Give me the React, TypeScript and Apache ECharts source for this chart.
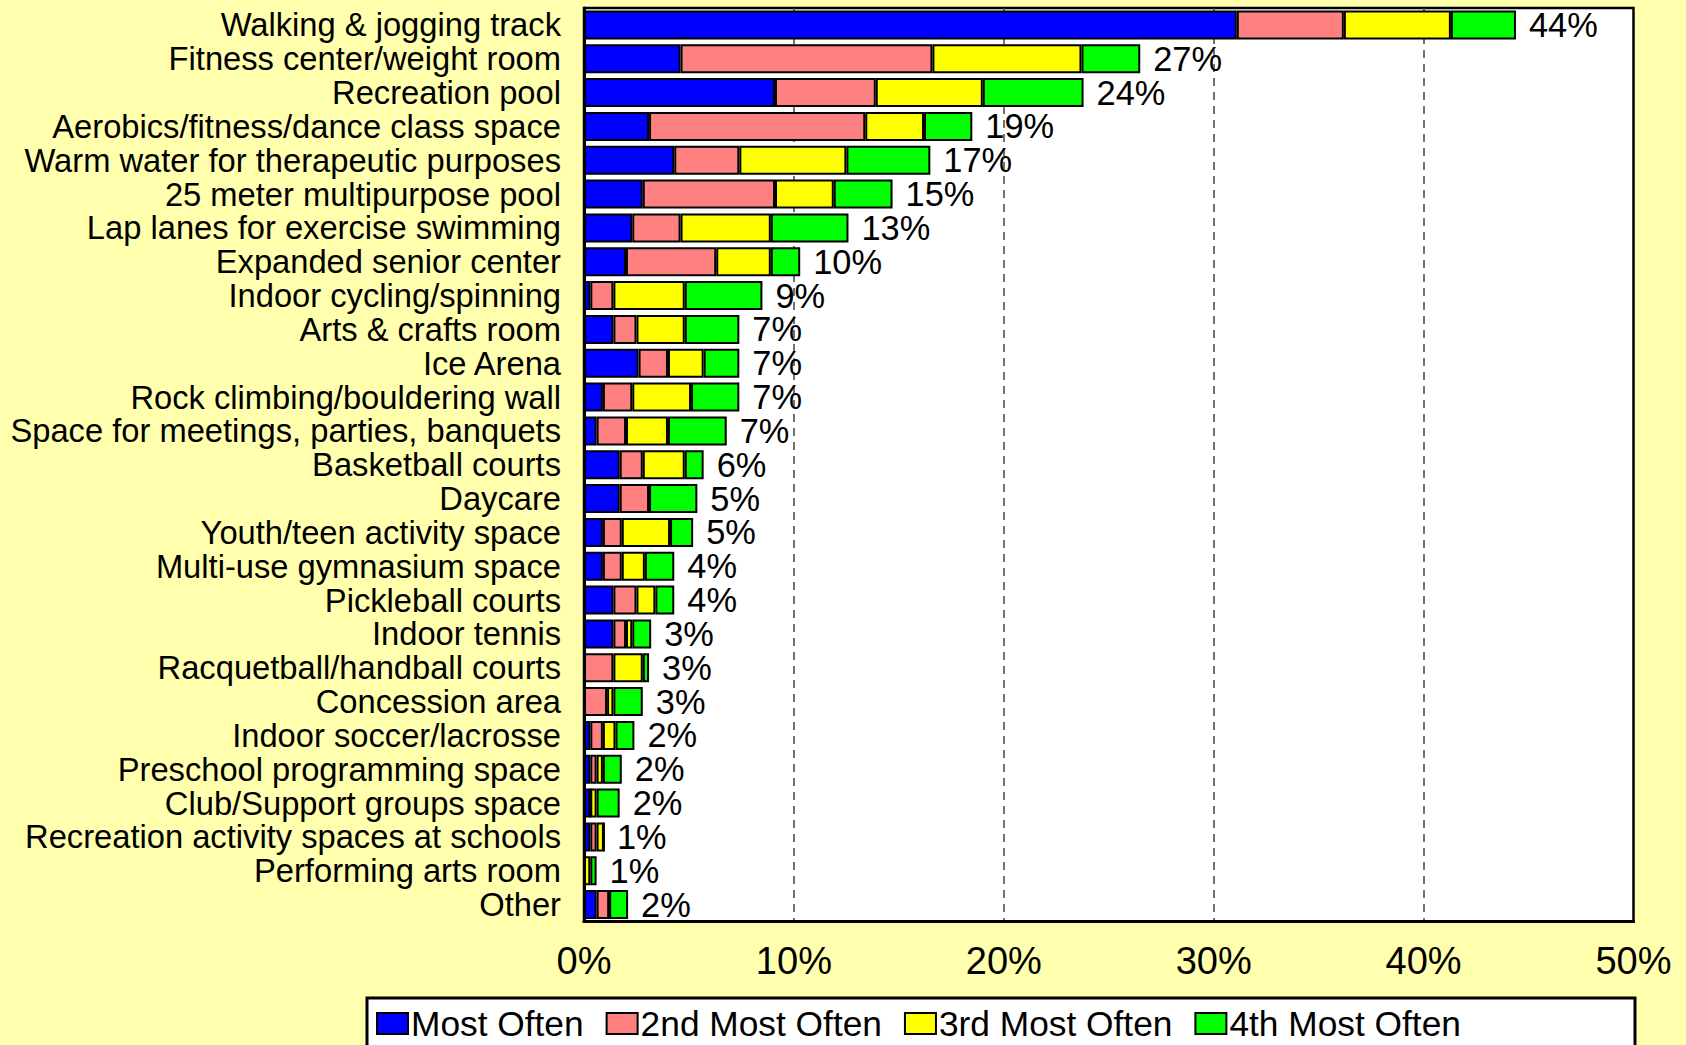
import React, { useEffect, useRef } from "react";
import * as echarts from "echarts";

const categories = [
  "Walking & jogging track",
  "Fitness center/weight room",
  "Recreation pool",
  "Aerobics/fitness/dance class space",
  "Warm water for therapeutic purposes",
  "25 meter multipurpose pool",
  "Lap lanes for exercise swimming",
  "Expanded senior center",
  "Indoor cycling/spinning",
  "Arts & crafts room",
  "Ice Arena",
  "Rock climbing/bouldering wall",
  "Space for meetings, parties, banquets",
  "Basketball courts",
  "Daycare",
  "Youth/teen activity space",
  "Multi-use gymnasium space",
  "Pickleball courts",
  "Indoor tennis",
  "Racquetball/handball courts",
  "Concession area",
  "Indoor soccer/lacrosse",
  "Preschool programming space",
  "Club/Support groups space",
  "Recreation activity spaces at schools",
  "Performing arts room",
  "Other",
];

const mostOften = [31.1, 4.6, 9.1, 3.1, 4.3, 2.8, 2.3, 2.0, 0.3, 1.4, 2.6, 0.9, 0.6, 1.7, 1.7, 0.9, 0.9, 1.4, 1.4, 0, 0, 0.3, 0.3, 0.3, 0.3, 0, 0.6];
const secondMostOften = [5.1, 12.0, 4.8, 10.3, 3.1, 6.3, 2.3, 4.3, 1.1, 1.1, 1.4, 1.4, 1.4, 1.1, 1.4, 0.9, 0.9, 1.1, 0.6, 1.4, 1.1, 0.6, 0.3, 0, 0.3, 0, 0.6];
const thirdMostOften = [5.1, 7.1, 5.1, 2.8, 5.1, 2.8, 4.3, 2.6, 3.4, 2.3, 1.7, 2.8, 2.0, 2.0, 0, 2.3, 1.1, 0.9, 0.3, 1.4, 0.3, 0.6, 0.3, 0.3, 0.35, 0.3, 0];
const fourthMostOften = [3.1, 2.8, 4.8, 2.3, 4.0, 2.8, 3.7, 1.4, 3.7, 2.6, 1.7, 2.3, 2.8, 0.9, 2.3, 1.1, 1.4, 0.9, 0.9, 0.3, 1.4, 0.9, 0.9, 1.1, 0, 0.3, 0.9];
const totalLabels = ["44%", "27%", "24%", "19%", "17%", "15%", "13%", "10%", "9%", "7%", "7%", "7%", "7%", "6%", "5%", "5%", "4%", "4%", "3%", "3%", "3%", "2%", "2%", "2%", "1%", "1%", "2%"];

const seriesNames = ["Most Often", "2nd Most Often", "3rd Most Often", "4th Most Often"];
const seriesColors = ["#0000FF", "#FF8080", "#FFFF00", "#00FF00"];

const FONT = '"Liberation Sans", Arial, Helvetica, sans-serif';

export default function App() {
  const ref = useRef<HTMLDivElement>(null);

  useEffect(() => {
    document.body.style.margin = "0";
    const chart = echarts.init(ref.current!, null, { renderer: "svg" });
    const values = [mostOften, secondMostOften, thirdMostOften, fourthMostOften];
    const totals = categories.map((_, i) => values.reduce((s, arr) => s + arr[i], 0));

    chart.setOption({
      animation: false,
      backgroundColor: "#FFFFAD",
      textStyle: { fontFamily: FONT },
      grid: {
        left: 584,
        right: 52.5,
        top: 8,
        height: 913.5,
        show: true,
        backgroundColor: "#FFFFFF",
        borderColor: "#000000",
        borderWidth: 2.5,
      },
      xAxis: {
        type: "value",
        min: 0,
        max: 50,
        interval: 10,
        axisLine: { show: true, lineStyle: { color: "#000", width: 3 } },
        axisTick: { show: false },
        splitLine: {
          show: true,
          showMinLine: false,
          showMaxLine: false,
          lineStyle: { color: "#444", type: [8, 6], width: 1.5 },
        },
        axisLabel: {
          formatter: "{value}%",
          fontSize: 38,
          color: "#000",
          margin: 20,
          fontFamily: FONT,
        },
      },
      yAxis: {
        type: "category",
        data: categories,
        inverse: true,
        axisLine: { show: true, lineStyle: { color: "#000", width: 3 } },
        axisTick: { show: false },
        splitLine: { show: false },
        axisLabel: {
          interval: 0,
          fontSize: 32.7,
          lineHeight: 32,
          color: "#000",
          margin: 23,
          fontFamily: FONT,
        },
      },
      legend: {
        data: seriesNames,
        left: 376,
        top: 1006,
        padding: 0,
        itemWidth: 31,
        itemHeight: 21,
        itemGap: 22,
        icon: "rect",
        selectedMode: false,
        z: 10,
        itemStyle: { borderColor: "#000", borderWidth: 2 },
        textStyle: { fontSize: 35.3, color: "#000", fontFamily: FONT, padding: [0, 0, 0, -2] },
      },
      graphic: [
        {
          type: "rect",
          z: 0,
          shape: { x: 367, y: 998, width: 1268, height: 90 },
          style: { fill: "#FFFFFF", stroke: "#000000", lineWidth: 3 },
        },
      ],
      series: [
        ...values.map((arr, k) => ({
          name: seriesNames[k],
          type: "bar",
          stack: "total",
          data: arr,
          barWidth: 29,
          itemStyle: { color: seriesColors[k], borderColor: "#000", borderWidth: 2 },
          emphasis: { disabled: true },
          silent: true,
        })),
        {
          name: "total",
          type: "bar",
          data: totals,
          barWidth: 29,
          barGap: "-100%",
          itemStyle: { color: "rgba(0,0,0,0)" },
          emphasis: { disabled: true },
          silent: true,
          label: {
            show: true,
            position: "right",
            distance: 13,
            formatter: (p: any) => totalLabels[p.dataIndex],
            fontSize: 34.4,
            lineHeight: 32,
            color: "#000",
            fontFamily: FONT,
          },
        },
      ],
    });

    return () => chart.dispose();
  }, []);

  return <div ref={ref} style={{ width: 1686, height: 1045 }} />;
}
